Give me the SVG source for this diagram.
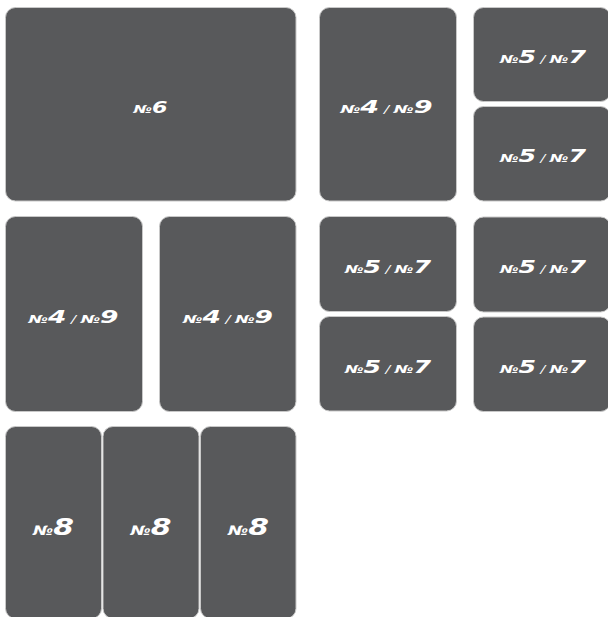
<svg xmlns="http://www.w3.org/2000/svg" width="608" height="617" viewBox="0 0 608 617">
<style>
.b{fill:#58595b;stroke:#c8c8c8;stroke-width:1}
.t{font-family:"DejaVu Sans","Liberation Sans",sans-serif;font-weight:bold;font-style:italic;fill:#ffffff;text-anchor:middle}
.n{font-size:11px}
.d{font-size:18px}
.d6{font-size:16px}
.s{font-size:10px;font-weight:normal}
.n8{font-size:13px}
.d8{font-size:23px}
</style>
<rect width="608" height="617" fill="#ffffff"/>
<g id="connectors"/>
<g id="n6"><rect class="b" x="5.5" y="7.5" width="290.5" height="193.5" rx="10"/><text class="t" x="150.5" y="113" textLength="34" lengthAdjust="spacingAndGlyphs"><tspan class="n">№</tspan><tspan class="d6">6</tspan></text></g>
<g id="n49a"><rect class="b" x="319.5" y="7.5" width="137" height="193.5" rx="10"/><text class="t" x="386.5" y="112.5" textLength="92" lengthAdjust="spacingAndGlyphs"><tspan class="n">№</tspan><tspan class="d">4</tspan><tspan class="s"> / </tspan><tspan class="n">№</tspan><tspan class="d">9</tspan></text></g>
<g id="n57a"><rect class="b" x="473.5" y="7.5" width="137" height="94" rx="10"/><text class="t" x="543" y="62.5" textLength="86" lengthAdjust="spacingAndGlyphs"><tspan class="n">№</tspan><tspan class="d">5</tspan><tspan class="s"> / </tspan><tspan class="n">№</tspan><tspan class="d">7</tspan></text></g>
<g id="n57b"><rect class="b" x="473.5" y="106.5" width="137" height="94.5" rx="10"/><text class="t" x="543" y="162" textLength="86" lengthAdjust="spacingAndGlyphs"><tspan class="n">№</tspan><tspan class="d">5</tspan><tspan class="s"> / </tspan><tspan class="n">№</tspan><tspan class="d">7</tspan></text></g>
<g id="n49b"><rect class="b" x="5.5" y="216.5" width="137" height="195" rx="10"/><text class="t" x="73.5" y="323" textLength="90" lengthAdjust="spacingAndGlyphs"><tspan class="n">№</tspan><tspan class="d">4</tspan><tspan class="s"> / </tspan><tspan class="n">№</tspan><tspan class="d">9</tspan></text></g>
<g id="n49c"><rect class="b" x="159.5" y="216.5" width="136.5" height="195" rx="10"/><text class="t" x="228" y="323" textLength="90" lengthAdjust="spacingAndGlyphs"><tspan class="n">№</tspan><tspan class="d">4</tspan><tspan class="s"> / </tspan><tspan class="n">№</tspan><tspan class="d">9</tspan></text></g>
<g id="n57c"><rect class="b" x="319.5" y="216.5" width="137" height="95" rx="10"/><text class="t" x="388" y="272.5" textLength="86" lengthAdjust="spacingAndGlyphs"><tspan class="n">№</tspan><tspan class="d">5</tspan><tspan class="s"> / </tspan><tspan class="n">№</tspan><tspan class="d">7</tspan></text></g>
<g id="n57d"><rect class="b" x="319.5" y="316.5" width="137" height="94.5" rx="10"/><text class="t" x="388" y="372.5" textLength="86" lengthAdjust="spacingAndGlyphs"><tspan class="n">№</tspan><tspan class="d">5</tspan><tspan class="s"> / </tspan><tspan class="n">№</tspan><tspan class="d">7</tspan></text></g>
<g id="n57e"><rect class="b" x="473.5" y="217" width="137" height="95" rx="10"/><text class="t" x="543" y="272.5" textLength="86" lengthAdjust="spacingAndGlyphs"><tspan class="n">№</tspan><tspan class="d">5</tspan><tspan class="s"> / </tspan><tspan class="n">№</tspan><tspan class="d">7</tspan></text></g>
<g id="n57f"><rect class="b" x="473.5" y="317" width="137" height="94.5" rx="10"/><text class="t" x="543" y="372.5" textLength="86" lengthAdjust="spacingAndGlyphs"><tspan class="n">№</tspan><tspan class="d">5</tspan><tspan class="s"> / </tspan><tspan class="n">№</tspan><tspan class="d">7</tspan></text></g>
<g id="n8a"><rect class="b" x="5.5" y="426.5" width="96" height="192" rx="10"/><text class="t" x="53.5" y="535" textLength="41" lengthAdjust="spacingAndGlyphs"><tspan class="n8">№</tspan><tspan class="d8">8</tspan></text></g>
<g id="n8b"><rect class="b" x="103" y="426.5" width="96" height="192" rx="10"/><text class="t" x="151" y="535" textLength="41" lengthAdjust="spacingAndGlyphs"><tspan class="n8">№</tspan><tspan class="d8">8</tspan></text></g>
<g id="n8c"><rect class="b" x="200.5" y="426.5" width="95.5" height="192" rx="10"/><text class="t" x="248.5" y="535" textLength="41" lengthAdjust="spacingAndGlyphs"><tspan class="n8">№</tspan><tspan class="d8">8</tspan></text></g>
</svg>
